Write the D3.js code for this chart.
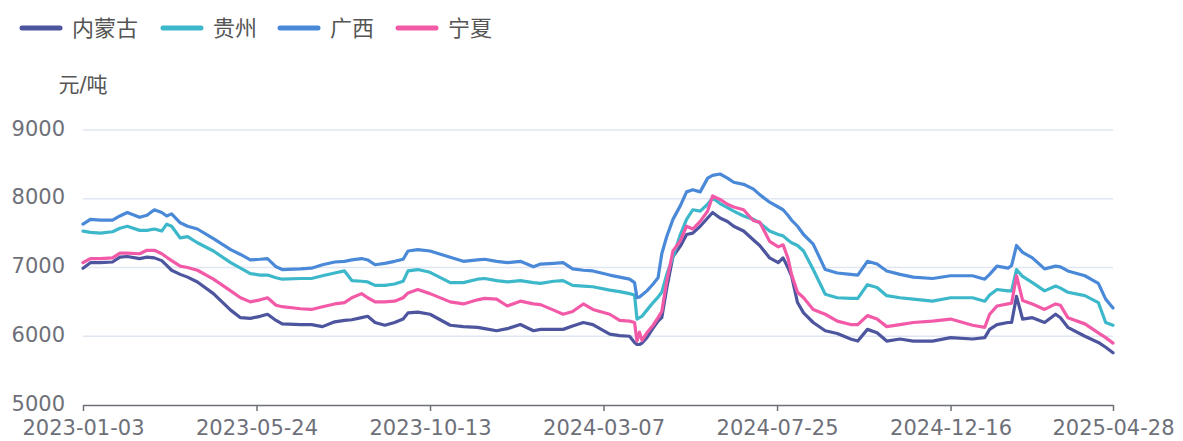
<!DOCTYPE html>
<html><head><meta charset="utf-8">
<script src="https://cdn.jsdelivr.net/npm/d3@7"></script>
<style>
html,body{margin:0;padding:0;background:#fff;}
svg{display:block;font-family:"DejaVu Sans","Noto Sans CJK SC",sans-serif;}
</style></head>
<body><svg id="chart" width="1183" height="441"></svg>
<script>
const seriesNames = ["内蒙古","贵州","广西","宁夏"];
const seriesColors = ["#4c559e","#3cb8ca","#4a89d8","#f25aa8"];
const yTicks = [5000,6000,7000,8000,9000];
const xTickLabels = ["2023-01-03","2023-05-24","2023-10-13","2024-03-07","2024-07-25","2024-12-16","2025-04-28"];
const xTickDayIndex = [0,94,188,282,376,470,558];
const unitLabel = "元/吨";

const dates = ["2023-01-03","2023-01-09","2023-01-17","2023-01-27","2023-02-02","2023-02-08","2023-02-18","2023-02-24","2023-03-02","2023-03-08",
"2023-03-12","2023-03-16","2023-03-23","2023-03-29","2023-04-06","2023-04-19","2023-05-03","2023-05-11","2023-05-19","2023-05-27",
"2023-06-02","2023-06-09","2023-06-14","2023-06-29","2023-07-08","2023-07-17","2023-07-27","2023-08-04","2023-08-10","2023-08-18",
"2023-08-23","2023-08-29","2023-09-06","2023-09-14","2023-09-21","2023-09-25","2023-10-03","2023-10-13","2023-10-30","2023-11-10",
"2023-11-22","2023-11-28","2023-12-08","2023-12-17","2023-12-28","2024-01-08","2024-01-14","2024-01-25","2024-02-02","2024-02-10",
"2024-02-19","2024-02-27","2024-03-12","2024-03-20","2024-03-28","2024-04-01","2024-04-03","2024-04-05","2024-04-07","2024-04-11",
"2024-04-16","2024-04-20","2024-04-23","2024-04-27","2024-05-02","2024-05-08","2024-05-13","2024-05-18","2024-05-24","2024-05-30",
"2024-06-03","2024-06-09","2024-06-15","2024-06-20","2024-06-28","2024-07-06","2024-07-11","2024-07-19","2024-07-26","2024-07-30",
"2024-08-03","2024-08-06","2024-08-11","2024-08-16","2024-08-24","2024-09-03","2024-09-13","2024-09-24","2024-09-30","2024-10-08",
"2024-10-16","2024-10-24","2024-11-04","2024-11-15","2024-12-01","2024-12-16","2025-01-03","2025-01-13","2025-01-17","2025-01-23",
"2025-02-01","2025-02-04","2025-02-08","2025-02-13","2025-02-21","2025-03-03","2025-03-12","2025-03-16","2025-03-22","2025-04-05",
"2025-04-16","2025-04-22","2025-04-28"];

const neimenggu = [6990,7070,7070,7080,7150,7160,7130,7150,7140,7100,
7030,6960,6900,6860,6790,6620,6380,6270,6260,6290,
6320,6230,6180,6170,6170,6140,6210,6230,6240,6270,
6290,6200,6160,6200,6250,6340,6350,6320,6160,6140,
6130,6110,6080,6110,6170,6080,6100,6100,6100,6150,
6200,6170,6030,6010,6000,5910,5880,5880,5900,5980,
6120,6220,6270,6700,7160,7310,7480,7500,7600,7720,
7800,7720,7670,7600,7530,7400,7320,7140,7070,7140,
7000,6880,6490,6340,6200,6080,6040,5960,5930,6100,
6050,5930,5960,5930,5930,5980,5960,5980,6100,6170,
6200,6200,6580,6250,6270,6200,6320,6270,6130,6000,
5910,5840,5760];

const guizhou = [7530,7510,7500,7520,7570,7600,7540,7540,7560,7530,
7630,7600,7430,7450,7360,7240,7070,6990,6910,6890,
6890,6850,6830,6840,6840,6880,6920,6950,6810,6800,
6790,6740,6740,6760,6800,6950,6970,6930,6780,6780,
6830,6840,6810,6790,6810,6780,6770,6800,6810,6740,
6730,6720,6670,6650,6620,6600,6250,6270,6290,6380,
6490,6570,6640,6900,7150,7480,7700,7840,7820,7920,
8010,7930,7870,7820,7750,7700,7650,7530,7480,7460,
7400,7360,7320,7240,6970,6610,6560,6550,6550,6750,
6710,6590,6560,6540,6510,6560,6560,6510,6600,6680,
6660,6660,6970,6870,6780,6660,6730,6700,6640,6590,
6490,6200,6160];

const guangxi = [7630,7700,7690,7690,7750,7800,7730,7760,7840,7800,
7750,7780,7650,7600,7560,7420,7260,7190,7110,7120,
7130,7010,6970,6980,6990,7040,7080,7090,7110,7130,
7110,7040,7060,7090,7120,7240,7260,7240,7150,7090,
7110,7120,7090,7070,7090,7010,7050,7060,7070,6980,
6960,6950,6890,6860,6830,6780,6560,6570,6600,6660,
6760,6850,7200,7450,7700,7900,8100,8130,8100,8300,
8340,8360,8300,8240,8210,8140,8060,7950,7880,7840,
7760,7690,7600,7480,7340,6970,6920,6900,6890,7090,
7050,6950,6900,6860,6840,6880,6880,6830,6900,7020,
6990,7030,7320,7220,7140,6980,7020,7010,6950,6880,
6770,6540,6410];

const ningxia = [7070,7130,7130,7140,7210,7210,7200,7250,7250,7200,
7150,7100,7020,7000,6960,6830,6660,6560,6500,6530,
6560,6450,6430,6400,6390,6430,6470,6490,6560,6620,
6560,6500,6500,6510,6560,6630,6680,6620,6500,6470,
6530,6550,6540,6440,6510,6470,6460,6380,6320,6360,
6470,6390,6320,6230,6220,6200,5930,6060,5940,6050,
6160,6270,6360,6800,7240,7390,7600,7560,7670,7820,
8040,7990,7920,7880,7840,7680,7660,7380,7300,7330,
7140,6900,6640,6560,6390,6320,6220,6170,6170,6300,
6250,6140,6170,6200,6220,6250,6160,6130,6320,6440,
6470,6480,6880,6520,6470,6390,6470,6450,6270,6180,
6050,5980,5900];

const seriesValues = [neimenggu, guizhou, guangxi, ningxia];

const svg = d3.select("#chart");
const W = 1183, H = 441;
const m = {left:83, right:70, top:130, bottom:36};
const x0 = m.left, x1 = W - m.right;
const parse = d3.timeParse("%Y-%m-%d");
const fmt = d3.timeFormat("%Y-%m-%d");
const lastIdx = xTickDayIndex[xTickDayIndex.length-1];

const x = d3.scaleTime()
  .domain(xTickLabels.map(parse))
  .range(xTickDayIndex.map(i => x0 + (x1 - x0) * i / lastIdx));
const y = d3.scaleLinear().domain([5000,9000]).range([H - m.bottom, m.top]);

// grid lines
svg.append("g").selectAll("line").data(yTicks.filter(t => t !== 5000)).join("line")
  .attr("x1", x0).attr("x2", x1)
  .attr("y1", d => y(d)).attr("y2", d => y(d))
  .attr("stroke", "#e0e6f1").attr("stroke-width", 1.5);

// y labels
svg.append("g").selectAll("text").data(yTicks).join("text")
  .attr("x", x0 - 18).attr("y", d => y(d) - 2).attr("dy", "0.36em")
  .attr("text-anchor", "end").attr("fill", "#6e7079")
  .style("font-size", "21px").text(d => d);

// unit label
svg.append("text").attr("x", x0).attr("y", 92).attr("text-anchor", "middle")
  .attr("fill", "#555").style("font-size", "21px").text(unitLabel);

// x axis
const xAxis = d3.axisBottom(x)
  .tickValues(xTickLabels.map(parse))
  .tickFormat(fmt).tickSize(6).tickSizeOuter(0).tickPadding(9);
const gx = svg.append("g").attr("transform", `translate(0,${H - m.bottom})`).call(xAxis);
gx.select(".domain").attr("stroke", "#6e7079").attr("stroke-width", 1.5);
gx.selectAll(".tick line").attr("stroke", "#6e7079").attr("stroke-width", 1.5);
gx.selectAll(".tick text").attr("fill", "#6e7079").style("font-size", "21px")
  .style("font-family", '"DejaVu Sans",sans-serif');

// lines
const line = d3.line()
  .x((d, i) => x(parse(dates[i])))
  .y(d => y(d));
const order = [0,1,2,3];
svg.append("g").selectAll("path").data(order).join("path")
  .attr("d", k => line(seriesValues[k]))
  .attr("fill", "none").attr("stroke", k => seriesColors[k])
  .attr("stroke-width", 3.2).attr("stroke-linejoin", "round").attr("stroke-linecap", "round");

// legend
const legendX = [22, 163, 280, 398];
const lg = svg.append("g").selectAll("g").data(seriesNames).join("g")
  .attr("transform", (d, i) => `translate(${legendX[i]},28)`);
lg.append("line").attr("x1", 0).attr("x2", 38).attr("y1", 0).attr("y2", 0)
  .attr("stroke", (d, i) => seriesColors[i]).attr("stroke-width", 5).attr("stroke-linecap", "round");
lg.append("text").attr("x", 50).attr("y", 0).attr("dy", "0.36em")
  .attr("fill", "#555").style("font-size", "22px").style("font-family", '"Noto Sans CJK SC",sans-serif')
  .text(d => d);
</script></body></html>
